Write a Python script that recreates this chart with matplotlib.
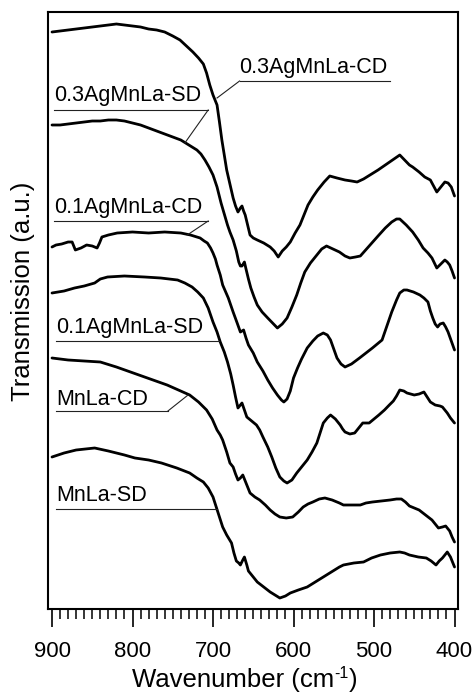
import matplotlib
matplotlib.use("Agg")
import matplotlib.pyplot as plt
from matplotlib.ticker import MultipleLocator

plt.rcParams['font.family'] = ['Liberation Sans', 'DejaVu Sans']

# ---------------- data ----------------
wn_03cd = [900, 890, 880, 870, 860, 850, 840, 830, 820, 810, 800, 790, 780, 770, 760, 750, 741, 733,
           725, 718, 712, 708, 704, 700, 695, 692, 689, 686, 683, 679, 675, 672, 669, 666, 664, 662,
           660, 657, 654, 650, 645, 637, 629, 624, 619, 614, 609, 604, 598, 592, 587, 582, 576, 570,
           562, 555, 546, 536, 528, 521, 513, 505, 495, 486, 477, 468, 462, 456, 452, 444, 437, 430,
           426, 422, 417, 412, 408, 404, 400]
t_03cd = [577, 578, 579, 580, 581, 582, 583, 584, 585, 584, 583, 582, 580, 579, 577, 573, 569, 563,
          557, 551, 545, 536, 524, 514, 504, 487, 469, 454, 439, 425, 411, 403, 397, 401, 403, 398,
          394, 384, 374, 371, 369, 366, 362, 358, 352, 358, 362, 367, 376, 384, 394, 404, 412, 419,
          427, 433, 431, 429, 428, 427, 430, 434, 439, 444, 449, 454, 449, 444, 442, 437, 432, 429,
          423, 417, 422, 427, 426, 422, 413]

wn_03sd = [900, 890, 880, 870, 860, 850, 840, 830, 820, 810, 800, 790, 780, 770, 760, 750, 740, 730,
           720, 715, 710, 705, 700, 695, 690, 686, 682, 679, 675, 671, 668, 666, 664, 661, 659, 656,
           653, 649, 645, 639, 632, 626, 620, 614, 608, 602, 596, 591, 586, 579, 571, 565, 559, 551,
           543, 536, 530, 523, 517, 506, 495, 486, 478, 472, 468, 460, 452, 445, 439, 433, 428, 425,
           422, 417, 412, 409, 406, 403, 400]
t_03sd = [484, 484, 485, 486, 487, 488, 488, 489, 489, 488, 486, 484, 481, 478, 475, 472, 469, 464,
          459, 455, 449, 442, 434, 422, 406, 395, 384, 377, 369, 358, 347, 343, 343, 347, 340, 330,
          321, 312, 304, 297, 291, 286, 281, 285, 291, 302, 314, 326, 337, 346, 354, 360, 363, 360,
          357, 353, 351, 352, 353, 363, 373, 381, 387, 390, 390, 384, 377, 369, 361, 356, 351, 346,
          341, 345, 349, 347, 344, 338, 331]

wn_01cd = [900, 895, 888, 880, 875, 873, 871, 864, 857, 850, 844, 841, 838, 830, 819, 800, 780, 760,
           740, 728, 716, 711, 707, 703, 700, 697, 695, 691, 688, 681, 675, 670, 666, 664, 662, 659,
           656, 650, 645, 638, 632, 626, 620, 615, 612, 608, 604, 600, 595, 590, 583, 576, 570, 563,
           558, 554, 550, 546, 541, 536, 528, 518, 510, 502, 496, 490, 484, 478, 472, 468, 463, 459,
           451, 443, 438, 433, 430, 427, 424, 421, 418, 414, 411, 408, 404, 400]
t_01cd = [362, 364, 365, 367, 367, 363, 359, 361, 364, 363, 361, 366, 372, 374, 376, 377, 376, 377,
          376, 374, 371, 368, 366, 361, 356, 350, 344, 334, 324, 311, 297, 286, 277, 278, 279, 271,
          264, 256, 247, 238, 229, 221, 214, 209, 207, 210, 218, 231, 241, 250, 261, 268, 273, 276,
          274, 269, 260, 251, 245, 242, 245, 251, 256, 261, 265, 269, 283, 297, 309, 316, 319, 319,
          317, 314, 311, 307, 298, 291, 285, 282, 285, 286, 282, 277, 268, 259]

wn_01sd = [900, 885, 872, 860, 847, 840, 831, 810, 785, 765, 744, 735, 726, 719, 712, 706, 700, 695,
           691, 686, 682, 678, 675, 672, 669, 666, 664, 661, 658, 652, 646, 642, 638, 632, 627, 622,
           617, 612, 608, 602, 596, 589, 583, 577, 571, 567, 563, 558, 554, 548, 542, 539, 536, 530,
           524, 519, 514, 506, 500, 494, 487, 481, 476, 472, 468, 463, 459, 450, 444, 438, 434, 430,
           424, 418, 415, 409, 405, 400]
t_01sd = [316, 318, 321, 323, 326, 330, 332, 333, 332, 331, 329, 326, 322, 317, 311, 301, 287, 277,
          267, 257, 247, 235, 224, 212, 201, 204, 206, 199, 192, 188, 184, 179, 172, 162, 152, 141,
          132, 128, 126, 129, 136, 143, 149, 157, 166, 176, 186, 191, 194, 190, 184, 180, 177, 175,
          176, 181, 186, 186, 190, 194, 199, 204, 208, 213, 219, 218, 216, 214, 215, 217, 212, 207,
          204, 203, 202, 196, 191, 186]

wn_cd = [900, 880, 860, 840, 820, 799, 778, 757, 743, 729, 718, 708, 701, 695, 691, 688, 683, 679,
         675, 672, 669, 666, 663, 658, 654, 648, 642, 635, 629, 623, 617, 609, 601, 594, 588, 582,
         576, 568, 561, 552, 543, 538, 527, 517, 510, 502, 491, 480, 472, 466, 461, 456, 450, 444,
         436, 428, 424, 420, 415, 411, 406, 403, 400]
t_cd = [251, 249, 248, 247, 242, 236, 230, 224, 219, 214, 207, 199, 190, 179, 174, 169, 157, 146,
        142, 135, 129, 131, 134, 124, 116, 112, 109, 104, 99, 95, 92, 91, 92, 97, 102, 105,
        107, 110, 111, 109, 106, 104, 104, 104, 106, 107, 108, 109, 110, 110, 107, 103, 101, 99,
        94, 89, 85, 81, 82, 83, 78, 72, 67]

wn_sd = [900, 885, 870, 847, 830, 810, 797, 780, 764, 745, 729, 720, 712, 706, 700, 694, 688, 683,
         677, 674, 671, 668, 666, 663, 661, 658, 656, 650, 645, 637, 629, 623, 617, 610, 604, 594,
         583, 573, 563, 553, 543, 538, 525, 513, 503, 492, 480, 468, 462, 456, 445, 435, 429, 423,
         419, 415, 409, 405, 400]
t_sd = [152, 156, 159, 161, 158, 154, 151, 149, 146, 141, 136, 131, 127, 121, 112, 97, 82, 74,
        66, 56, 48, 46, 44, 49, 52, 44, 38, 32, 27, 22, 17, 14, 11, 13, 16, 19,
        22, 27, 32, 37, 42, 44, 46, 47, 51, 54, 56, 57, 56, 54, 52, 51, 48, 44,
        48, 51, 57, 52, 42]

series = [
    ("0.3AgMnLa-CD", wn_03cd, t_03cd),
    ("0.3AgMnLa-SD", wn_03sd, t_03sd),
    ("0.1AgMnLa-CD", wn_01cd, t_01cd),
    ("0.1AgMnLa-SD", wn_01sd, t_01sd),
    ("MnLa-CD", wn_cd, t_cd),
    ("MnLa-SD", wn_sd, t_sd),
]

x_ticks = [900, 800, 700, 600, 500, 400]

# ---------------- figure ----------------
W, H = 474, 693
fig = plt.figure(figsize=(W / 100, H / 100), dpi=100)
ax = fig.add_axes([48.3 / W, 1 - 609 / H, (458.3 - 48.3) / W, (609 - 12.3) / H])

for name, wn, t in series:
    ax.plot(wn, t, color='black', lw=2.0, solid_joinstyle='round', solid_capstyle='round')

ax.set_xlim(904.6, 395.3)
ax.set_ylim(0, 596.7)

# labels with underline and leader lines (positions in data coords)
lab_fs = 15.5
line_kw = dict(color='#222222', lw=0.8)
# (text, text_x, baseline_y, underline_y, underline_x0, underline_x1, leader_start, leader_end)
labels = [
    ("0.3AgMnLa-CD", 667, 536, 528, 667, 480, 667, (695, 511)),
    ("0.3AgMnLa-SD", 897, 508, 499, 897, 706, 706, (735, 466)),
    ("0.1AgMnLa-CD", 897, 396, 388, 897, 706, 706, (732, 374)),
    ("0.1AgMnLa-SD", 895, 276, 268, 895, 692, None, None),
    ("MnLa-CD", 895, 204, 198, 895, 756, 756, (731, 214)),
    ("MnLa-SD", 895, 108, 100, 895, 695, None, None),
]
for txt, tx, ty, uy, ux0, ux1, ls, le in labels:
    ax.text(tx, ty, txt, fontsize=lab_fs, ha='left', va='baseline')
    ax.plot([ux0, ux1], [uy, uy], **line_kw)
    if le is not None:
        ax.plot([ls, le[0]], [uy, le[1]], **line_kw)

# axes styling
for sp in ax.spines.values():
    sp.set_linewidth(1.5)
ax.set_yticks([])
ax.set_xticks(x_ticks)
ax.xaxis.set_minor_locator(MultipleLocator(10))
ax.tick_params(axis='x', which='major', direction='out', length=13, width=1.2,
               labelsize=16, pad=10)
ax.tick_params(axis='x', which='minor', direction='out', length=7, width=1.1)

fig.text(23 / W, 1 - 291 / H, "Transmission (a.u.)", rotation=90, fontsize=18.5,
         ha='center', va='center')

# x label composed of pieces so the superscript uses a plain hyphen
renderer = fig.canvas.get_renderer()
xl_fs = 18.5
base_y = 1 - 687 / H
parts = [("Wavenumber (cm", xl_fs, 0.0), ("-1", xl_fs * 0.62, 8.5), (")", xl_fs, 0.0)]
widths = []
for s, fs, dy in parts:
    tt = fig.text(0, 0, s, fontsize=fs)
    widths.append(tt.get_window_extent(renderer).width)
    tt.remove()
total = sum(widths)
x0 = 245 - total / 2
for (s, fs, dy), w in zip(parts, widths):
    fig.text(x0 / W, base_y + dy / H, s, fontsize=fs, ha='left', va='baseline')
    x0 += w

fig.savefig("out.png", dpi=100)
